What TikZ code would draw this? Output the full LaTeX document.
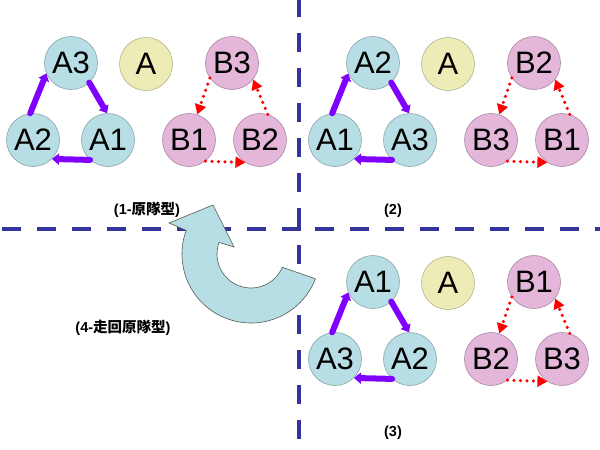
\documentclass[tikz,border=0pt]{standalone}
\usepackage{fontspec}
\setmainfont{Liberation Sans}
\newfontfamily\cjk{Noto Sans CJK TC}
\usetikzlibrary{arrows.meta}
\definecolor{dashblue}{RGB}{51,51,153}
\definecolor{cyanfill}{RGB}{183,222,228}
\definecolor{yellowfill}{RGB}{238,236,182}
\definecolor{pinkfill}{RGB}{228,182,218}
\definecolor{violetline}{RGB}{128,0,255}
\tikzset{
  ball/.style={circle, minimum size=53pt, inner sep=0pt, text=black,
    font=\fontsize{31}{31}\selectfont, line width=0.6pt},
  aball/.style={ball, fill=cyanfill, draw=cyanfill!75!black},
  yball/.style={ball, fill=yellowfill, draw=yellowfill!75!black},
  bball/.style={ball, fill=pinkfill, draw=pinkfill!75!black},
  purplearrow/.style={draw=violetline, line width=6pt, line cap=round,
    -{Triangle[length=7pt,width=11pt]}},
  redarrow/.style={draw=red, line width=3.5pt, line cap=round,
    dash pattern=on 0pt off 6.5pt,
    -{Triangle[length=10pt,width=11pt]}},
  caption/.style={font=\bfseries\fontsize{14.5}{16}\selectfont, text=black},
  divider/.style={draw=dashblue, line width=4pt, dash pattern=on 19pt off 16pt},
  turnarrow/.style={fill=cyanfill, draw=black!65, line width=0.6pt, line join=miter}
}
\newcommand\mypanel[9]{%
  \begin{scope}[shift={(#2,#3)}]
    \node[aball] (#1ta) at (71,63) {#4};
    \node[aball] (#1la) at (33,140) {#5};
    \node[aball] (#1ra) at (108,140) {#6};
    \node[yball] (#1y) at (146,64) {A};
    \node[bball] (#1tb) at (232,63) {#7};
    \node[bball] (#1lb) at (189,140) {#8};
    \node[bball] (#1rb) at (260,140) {#9};
  \end{scope}
  \draw[purplearrow] (#1la.96) -- (#1ta.203);
  \draw[purplearrow] (#1ta.313) -- (#1ra.92);
  \draw[purplearrow] (#1ra.228) -- (#1la.315);
  \draw[redarrow] (#1tb.214) -- (#1lb.72);
  \draw[redarrow] (#1rb.73) -- (#1tb.322);
  \draw[redarrow] (#1lb.308) -- (#1rb.237);
}
\begin{document}
\begin{tikzpicture}[x=1pt,y=-1pt]
  \useasboundingbox[fill=white] (0,0) rectangle (600,450);
  % dividers
  \coordinate (corner) at (301,229);
  \coordinate (hleft) at (0,229);
  \coordinate (vcorner) at (299,227);
  \coordinate (vtop) at (299,0);
  \coordinate (hrstart) at (315,229);
  \coordinate (hright) at (600,229);
  \coordinate (vbstart) at (299,245);
  \coordinate (vbot) at (299,450);
  \draw[divider] (corner) -- (hleft);
  \draw[divider] (vcorner) -- (vtop);
  \draw[divider] (hrstart) -- (hright);
  \draw[divider] (vbstart) -- (vbot);
  % turning arrow
  \path[turnarrow] (251,254) ++(21:69) arc[start angle=21, end angle=200, radius=69]
     -- (169,223) -- (213,205) -- (234,247) -- (219.05,242.37)
     arc[start angle=200, end angle=23, radius=34] -- cycle;
  % panels
  \mypanel{p}{0}{0}{A3}{A2}{A1}{B3}{B1}{B2}
  \mypanel{q}{302}{0}{A2}{A1}{A3}{B2}{B3}{B1}
  \mypanel{r}{302}{219}{A1}{A3}{A2}{B1}{B2}{B3}
  % captions
  \node[caption] (c1) at (147,210) {(1-{\cjk 原隊型})};
  \node[caption] (c2) at (393,211) {(2)};
  \node[caption] (c3) at (393,433) {(3)};
  \node[caption] (c4) at (123,328) {(4-{\cjk 走回原隊型})};
\end{tikzpicture}
\end{document}
